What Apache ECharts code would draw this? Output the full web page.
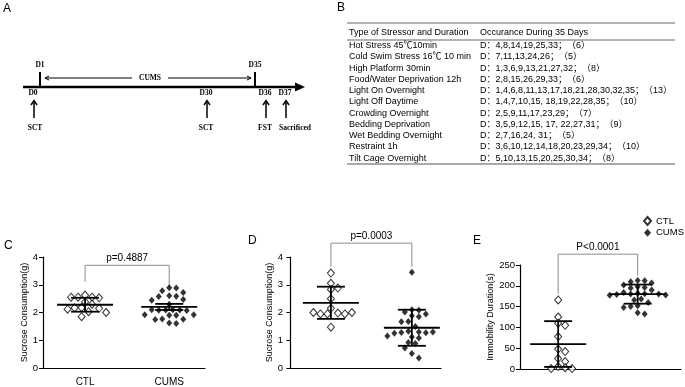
<!DOCTYPE html>
<html>
<head>
<meta charset="utf-8">
<script src="https://cdn.jsdelivr.net/npm/echarts@6/dist/echarts.min.js"></script>
<style>
  html, body { margin: 0; padding: 0; background: #fff; }
  #chart { width: 685px; height: 387px; }
</style>
</head>
<body>
<div id="chart"></div>
<script>
// ---- data ----
const groups = ['CTL', 'CUMS'];

// C: sucrose consumption before CUMS
const ctlC = [2.63, 2.55, 2.55, 2.53, 2.55, 2.38, 2.3, 2.18, 2.17, 2.15, 2.12, 2.03, 2.0, 1.85];
const cumsC = [2.89, 2.88, 2.78, 2.72, 2.6, 2.59, 2.58, 2.47, 2.44, 2.3, 2.1, 2.09, 2.09, 2.08, 2.07, 2.1,
  1.92, 1.9, 1.9, 1.92, 1.77, 1.76, 1.75, 1.62, 1.6];
const meanC = [2.28, 2.2];
const errC = [0.25, 0.11];
const pC = 'p=0.4887';
const bracketC = [3.7, 3.1, 2.93]; // top, left foot, right foot

// D: sucrose consumption after CUMS
const ctlD = [3.42, 3.05, 2.88, 2.83, 2.5, 2.15, 1.98, 1.95, 1.95, 1.95, 2.0, 2.0, 1.47];
const cumsD = [3.45, 2.1, 2.08, 2.02, 1.95, 1.88, 1.85, 1.68, 1.67, 1.5, 1.32, 1.3, 1.28, 1.27, 1.25, 1.3,
  1.15, 1.12, 1.08, 0.92, 0.88, 0.72, 0.52, 0.36];
const meanD = [2.35, 1.45];
const errD = [0.58, 0.65];
const pD = 'p=0.0003';
const bracketD = [4.5, 3.65, 3.65];

// E: forced swim immobility
const ctlE = [166, 125, 110, 105, 78, 48, 42, 25, 18, 6, 3, 1, 1];
const cumsE = [213, 212, 210, 207, 202, 198, 196, 195, 190, 184, 182, 181, 180, 180, 179, 178, 177,
  168, 166, 160, 152, 150, 148, 135, 132];
const meanE = [60, 180];
const errE = [55, 23];
const pE = 'P<0.0001';
const bracketE = [276, 181, 224];

// A: timeline
const topDays = ['D1', 'D35'];
const bottomDays = ['D0', 'D30', 'D36', 'D37'];
const bottomEvents = ['SCT', 'SCT', 'FST', 'Sacrificed'];

// B: stressor table
const tableHead = ['Type of Stressor and Duration', 'Occurance During 35 Days'];
const stressors = [
  'Hot Stress 45℃10min',
  'Cold Swim Stress 16℃ 10 min',
  'High Platform 30min',
  'Food/Water Deprivation 12h',
  'Light On Overnight',
  'Light Off Daytime',
  'Crowding Overnight',
  'Bedding Deprivation',
  'Wet Bedding Overnight',
  'Restraint 1h',
  'Tilt Cage Overnight'
];
const occurrences = [
  'D：4,8,14,19,25,33；（6）',
  'D：7,11,13,24,26；（5）',
  'D：1,3,6,9,13,21,27,32；（8）',
  'D：2,8,15,26,29,33；（6）',
  'D：1,4,6,8,11,13,17,18,21,28,30,32,35；（13）',
  'D：1,4,7,10,15, 18,19,22,28,35；（10）',
  'D：2,5,9,11,17,23,29；（7）',
  'D：3,5,9,12,15, 17, 22,27,31；（9）',
  'D：2,7,16,24, 31；（5）',
  'D：3,6,10,12,14,18,20,23,29,34；（10）',
  'D：5,10,13,15,20,25,30,34；（8）'
];

// ---- layout ----
const SANS = 'Arial, "Liberation Sans", "Noto Sans CJK SC", sans-serif';
const SERIF = '"Liberation Serif", "Times New Roman", serif';

const panels = [
  {label: 'C', labelPos: [4, 240], grid: {left: 43, top: 257, width: 162, height: 111}, x: [0, 3.85],
    yMax: 4, yStep: 1, yName: 'Sucrose Consumption(g)', nameGap: 14,
    ctl: ctlC, cums: cumsC, mean: meanC, err: errC, p: pC, bracket: bracketC},
  {label: 'D', labelPos: [248, 235], grid: {left: 288, top: 257, width: 153, height: 111}, x: [-0.06, 3.72],
    yMax: 4, yStep: 1, yName: 'Sucrose Consumption(g)', nameGap: 14,
    ctl: ctlD, cums: cumsD, mean: meanD, err: errD, p: pD, bracket: bracketD},
  {label: 'E', labelPos: [473, 235], grid: {left: 520, top: 265, width: 161, height: 104}, x: [0.04, 4.09],
    yMax: 250, yStep: 50, yName: 'Immobility Duration(s)', nameGap: 16,
    ctl: ctlE, cums: cumsE, mean: meanE, err: errE, p: pE, bracket: bracketE}
];

// simple beeswarm: push points sideways until they stop overlapping
function swarm(values, gx, pxPerX, pxPerY) {
  const placed = [];
  return values.map(v => {
    const y = v * pxPerY;
    let dx = 0;
    for (let i = 0; i < 60; i++) {
      const cand = (i % 2 ? 1 : -1) * Math.ceil(i / 2) * 3.5;
      const free = placed.every(p => {
        const ex = (p[0] - cand) / 6.5, ey = (p[1] - y) / 6;
        return ex * ex + ey * ey >= 1;
      });
      if (free) {
        dx = cand;
        break;
      }
    }
    placed.push([dx, y]);
    return [gx + dx / pxPerX, v];
  });
}

function seg(a, b, w, color) {
  return {type: 'line', shape: {x1: a[0], y1: a[1], x2: b[0], y2: b[1]}, style: {stroke: color || '#000', lineWidth: w}};
}

function txt(x, y, text, font, align, vAlign) {
  return {
    type: 'text', x: x, y: y,
    style: {text: text, font: font, fill: '#000', align: align || 'left', verticalAlign: vAlign || 'middle',
      textAlign: align || 'left', textVerticalAlign: vAlign || 'middle'}
  };
}

const grid = [], xAxis = [], yAxis = [], series = [];

panels.forEach((pn, k) => {
  grid.push(pn.grid);
  xAxis.push({
    gridIndex: k, type: 'value', min: pn.x[0], max: pn.x[1], interval: 1,
    axisLine: {lineStyle: {color: '#000', width: 1.2}},
    axisTick: {show: false},
    splitLine: {show: false},
    axisLabel: {
      color: '#000', fontSize: 10, fontFamily: SANS, margin: 9, showMaxLabel: false, showMinLabel: false,
      formatter: v => (v === 1 ? groups[0] : v === 3 ? groups[1] : '')
    }
  });
  yAxis.push({
    gridIndex: k, type: 'value', min: 0, max: pn.yMax, interval: pn.yStep,
    name: pn.yName, nameLocation: 'middle', nameGap: pn.nameGap + (pn.yMax > 100 ? 8 : 0),
    nameTextStyle: {color: '#000', fontSize: 9, fontFamily: SANS},
    axisLine: {show: true, lineStyle: {color: '#000', width: 1.2}},
    axisTick: {show: true, length: 4, lineStyle: {color: '#000'}},
    splitLine: {show: false},
    axisLabel: {color: '#000', fontSize: 9.5, fontFamily: SANS, margin: 5}
  });

  const pxPerX = pn.grid.width / (pn.x[1] - pn.x[0]);
  const pxPerY = pn.grid.height / pn.yMax;

  series.push({
    name: 'CTL', type: 'scatter', xAxisIndex: k, yAxisIndex: k, z: 2,
    symbol: 'diamond', symbolSize: [7, 8],
    itemStyle: {color: '#fff', borderColor: '#000', borderWidth: 1},
    data: swarm(pn.ctl, 1, pxPerX, pxPerY)
  });
  series.push({
    name: 'CUMS', type: 'scatter', xAxisIndex: k, yAxisIndex: k, z: 2,
    symbol: 'diamond', symbolSize: [6, 7],
    itemStyle: {color: '#000'},
    data: swarm(pn.cums, 3, pxPerX, pxPerY)
  });
  // mean and error bars
  series.push({
    type: 'custom', xAxisIndex: k, yAxisIndex: k, z: 3, silent: true,
    data: groups.map((g, i) => [i * 2 + 1, pn.mean[i], pn.err[i]]),
    renderItem: (params, api) => {
      const x = api.value(0), m = api.value(1), e = api.value(2);
      const c = api.coord([x, m]);
      const hi = api.coord([x, m + e]);
      const lo = api.coord([x, m - e]);
      return {
        type: 'group', children: [
          seg([c[0] - 28, c[1]], [c[0] + 28, c[1]], 1.8),
          seg([hi[0] - 14, hi[1]], [hi[0] + 14, hi[1]], 1.8),
          seg([lo[0] - 14, lo[1]], [lo[0] + 14, lo[1]], 1.8),
          seg(hi, lo, 1.8)
        ]
      };
    }
  });
  // significance bracket
  series.push({
    type: 'custom', xAxisIndex: k, yAxisIndex: k, z: 1, silent: true, clip: false,
    data: [[1, 3].concat(pn.bracket)],
    renderItem: (params, api) => {
      const a = api.coord([api.value(0), api.value(3)]);
      const b = api.coord([api.value(0), api.value(2)]);
      const c = api.coord([api.value(1), api.value(2)]);
      const d = api.coord([api.value(1), api.value(4)]);
      return {
        type: 'group', children: [
          {type: 'polyline', shape: {points: [a, b, c, d]}, style: {stroke: '#8c8c8c', lineWidth: 1, fill: null}},
          txt((b[0] + c[0]) / 2, b[1] - 2, pn.p, '10px ' + SANS, 'center', 'bottom')
        ]
      };
    }
  });
});

// ---- graphic: panel letters, timeline (A), table (B) ----
const graphic = [];
graphic.push(txt(3, 3, 'A', '12px ' + SANS, 'left', 'top'));
graphic.push(txt(337, 2, 'B', '12px ' + SANS, 'left', 'top'));
panels.forEach(pn => graphic.push(txt(pn.labelPos[0], pn.labelPos[1], pn.label, '12px ' + SANS, 'left', 'top')));

// timeline
const lineY = 87;
const bold = 'bold 7.5px ' + SERIF;
graphic.push(seg([23, lineY], [297, lineY], 2.5));
graphic.push({type: 'polygon', shape: {points: [[295, lineY - 4.5], [305, lineY], [295, lineY + 4.5]]}, style: {fill: '#000'}});
const topX = [40, 255];
topDays.forEach((d, i) => {
  graphic.push(seg([topX[i], 72], [topX[i], lineY], 2));
  graphic.push(txt(topX[i], 65, d, bold, 'center', 'middle'));
});
// CUMS double arrow
graphic.push(seg([45, 78], [132, 78], 1));
graphic.push(seg([168, 78], [251, 78], 1));
graphic.push({type: 'polyline', shape: {points: [[49, 76], [45, 78], [49, 80]]}, style: {stroke: '#000', lineWidth: 1, fill: null}});
graphic.push({type: 'polyline', shape: {points: [[247, 76], [251, 78], [247, 80]]}, style: {stroke: '#000', lineWidth: 1, fill: null}});
graphic.push(txt(150, 78, 'CUMS', bold, 'center', 'middle'));
const botX = [33, 206, 265, 285];
const eventX = [35, 206, 265, 295];
bottomDays.forEach((d, i) => {
  const x = botX[i] + 1;
  graphic.push(txt(botX[i], 93, d, bold, 'center', 'middle'));
  graphic.push(seg([x, 118], [x, 101], 1.5));
  graphic.push({type: 'polyline', shape: {points: [[x - 3, 105], [x, 100.5], [x + 3, 105]]}, style: {stroke: '#000', lineWidth: 1.5, fill: null}});
  graphic.push(txt(eventX[i], 128, bottomEvents[i], bold, 'center', 'middle'));
});

// table
const col1 = 349, col2 = 480;
const tf = '9px ' + SANS;
graphic.push(seg([347, 23], [675, 23], 1.5, '#999'));
graphic.push(txt(col1, 33, tableHead[0], tf));
graphic.push(txt(col2, 33, tableHead[1], tf));
graphic.push(seg([347, 40], [675, 40], 1, '#666'));
stressors.forEach((s, i) => {
  const y = 45.7 + i * 11.25;
  graphic.push(txt(col1, y, s, tf));
  graphic.push(txt(col2, y, occurrences[i], tf));
});
graphic.push(seg([347, 164], [675, 164], 2, '#aaa'));

const chart = echarts.init(document.getElementById('chart'));
chart.setOption({
  animation: false,
  backgroundColor: '#fff',
  grid: grid,
  xAxis: xAxis,
  yAxis: yAxis,
  legend: {
    data: groups, orient: 'vertical', left: 643, top: 216, padding: 0, itemWidth: 7, itemHeight: 8, itemGap: 2,
    textStyle: {color: '#000', fontSize: 9.5, fontFamily: SANS}
  },
  series: series,
  graphic: graphic
});
</script>
</body>
</html>
